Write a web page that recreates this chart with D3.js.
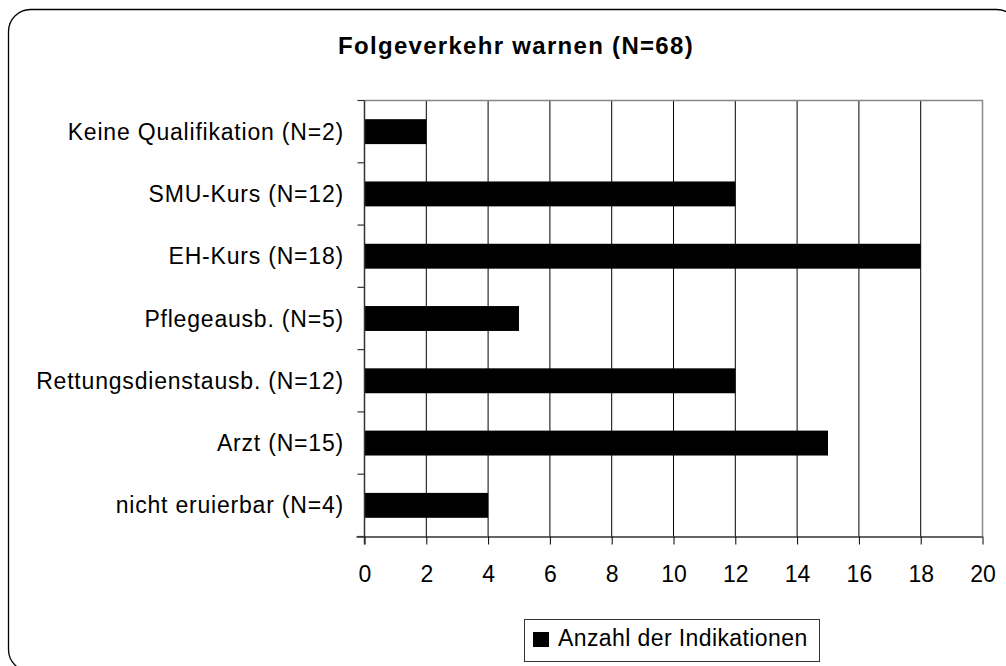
<!DOCTYPE html>
<html>
<head>
<meta charset="utf-8">
<script src="https://cdn.jsdelivr.net/npm/d3@7"></script>
<style>
  html, body { margin: 0; padding: 0; background: #fff; }
  svg { display: block; font-family: "Liberation Sans", Arial, sans-serif; }
</style>
</head>
<body>
<svg id="chart" width="1006" height="666"></svg>
<script>
// Qualification groups and number of indications
const categories = [
  "Keine Qualifikation (N=2)",
  "SMU-Kurs (N=12)",
  "EH-Kurs (N=18)",
  "Pflegeausb. (N=5)",
  "Rettungsdienstausb. (N=12)",
  "Arzt (N=15)",
  "nicht eruierbar (N=4)"
];
const values = [2, 12, 18, 5, 12, 15, 4];
const xTicks = [0, 2, 4, 6, 8, 10, 12, 14, 16, 18, 20];
const titleText = "Folgeverkehr warnen (N=68)";
const seriesName = "Anzahl der Indikationen";

const svg = d3.select("#chart");

// Rounded outer frame
svg.append("rect")
  .attr("x", 8.5).attr("y", 9.5)
  .attr("width", 1010).attr("height", 662)
  .attr("rx", 22).attr("ry", 22)
  .attr("fill", "#fff").attr("stroke", "#000").attr("stroke-width", 1.3);

const plot = { left: 364.5, right: 982.5, top: 100.5, bottom: 536.5 };

const x = d3.scaleLinear().domain([0, 20]).range([plot.left, plot.right]);
const y = d3.scaleBand().domain(categories).range([plot.top, plot.bottom]).paddingInner(0.6).paddingOuter(0.3);
const yBand = d3.scaleBand().domain(categories).range([plot.top, plot.bottom]);

// Title
svg.append("text")
  .attr("x", 516).attr("y", 53.5)
  .attr("text-anchor", "middle")
  .attr("font-size", 24).attr("font-weight", "bold")
  .attr("letter-spacing", 1.3)
  .text(titleText);

// Vertical gridlines
svg.append("g").selectAll("line")
  .data(xTicks.filter(d => d > 0 && d < 20))
  .join("line")
  .attr("x1", d => x(d)).attr("x2", d => x(d))
  .attr("y1", plot.top).attr("y2", plot.bottom)
  .attr("stroke", "#000").attr("stroke-width", 1);

// Plot border (top and right, grey)
svg.append("path")
  .attr("d", `M${plot.left},${plot.top}H${plot.right}V${plot.bottom}`)
  .attr("fill", "none").attr("stroke", "#888").attr("stroke-width", 1.5);

// Bars
svg.append("g").selectAll("rect")
  .data(values)
  .join("rect")
  .attr("x", x(0))
  .attr("y", (d, i) => y(categories[i]))
  .attr("width", d => x(d) - x(0))
  .attr("height", y.bandwidth())
  .attr("fill", "#000");

// X axis
const xAxis = svg.append("g")
  .attr("transform", `translate(0,${plot.bottom})`)
  .call(d3.axisBottom(x).tickValues(xTicks).tickSize(8).tickPadding(21).tickSizeOuter(0));
xAxis.select(".domain").attr("stroke", "#333").attr("stroke-width", 1.5)
  .attr("d", `M${plot.left - 8},0.5H${plot.right}`);
xAxis.selectAll(".tick line").attr("stroke", "#000");
xAxis.selectAll(".tick text")
  .attr("font-size", 23).attr("fill", "#000")
  .attr("font-family", "Liberation Sans, Arial, sans-serif");

// Y axis: category boundaries as ticks
const yAxisG = svg.append("g");
yAxisG.append("line")
  .attr("x1", plot.left).attr("x2", plot.left)
  .attr("y1", plot.top).attr("y2", plot.bottom + 8)
  .attr("stroke", "#333").attr("stroke-width", 1.5);
const bounds = categories.map(c => yBand(c)).concat([plot.bottom]);
yAxisG.selectAll("line.tk")
  .data(bounds)
  .join("line").attr("class", "tk")
  .attr("x1", plot.left - 7).attr("x2", plot.left)
  .attr("y1", d => d).attr("y2", d => d)
  .attr("stroke", "#333").attr("stroke-width", 1.2);
yAxisG.selectAll("text")
  .data(categories)
  .join("text")
  .attr("x", 344)
  .attr("y", d => yBand(d) + yBand.bandwidth() / 2)
  .attr("dy", "0.35em")
  .attr("text-anchor", "end")
  .attr("font-size", 23)
  .attr("letter-spacing", 0.8)
  .text(d => d);

// Legend
const lg = svg.append("g");
lg.append("rect")
  .attr("x", 524.5).attr("y", 619.5).attr("width", 295).attr("height", 42)
  .attr("fill", "#fff").attr("stroke", "#333").attr("stroke-width", 1);
lg.append("rect")
  .attr("x", 533).attr("y", 632).attr("width", 16).attr("height", 15)
  .attr("fill", "#000");
lg.append("text")
  .attr("x", 558).attr("y", 645.5)
  .attr("font-size", 23)
  .attr("letter-spacing", 0.4)
  .text(seriesName);
</script>
</body>
</html>
